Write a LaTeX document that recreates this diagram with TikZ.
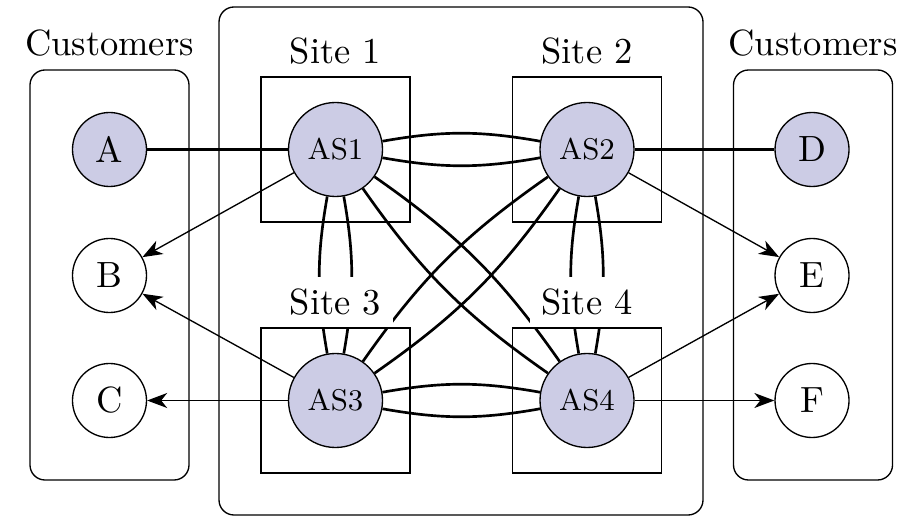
\documentclass[11pt,tikz,border=0pt]{standalone}
\usetikzlibrary{positioning,arrows.meta}
\definecolor{asfill}{RGB}{204,204,229}
\tikzset{
  asnode/.style={circle,draw,fill=asfill,minimum size=28.2pt,inner sep=0pt,font=\footnotesize},
  cust/.style={circle,draw,minimum size=22.2pt,inner sep=0pt},
  custA/.style={cust,fill=asfill},
  sitebox/.style={draw,minimum width=44.7pt,minimum height=43.5pt},
  custbox/.style={draw,rounded corners=4.5pt,minimum width=47.7pt,minimum height=123pt},
  lbl/.style={fill=white,inner sep=3.5pt},
  link/.style={thick},
  arr/.style={-{Stealth[length=6pt,width=4.5pt,inset=1.8pt]}}
}
\begin{document}
\begin{tikzpicture}[x=15pt,y=15pt]
\useasboundingbox (0,0) rectangle (18.32,10.34);
% provider network
\draw[rounded corners=4.5pt] (4.38,0.04) rectangle (14.06,10.2);
\node[custbox] (cl) at (2.19,4.84) {};
\node[custbox] (cr) at (16.26,4.84) {};
\node[above=0pt of cl] (cll) {Customers};
\node[above=0pt of cr] (crl) {Customers};
% sites
\node[sitebox] (s1) at (6.71,7.35) {};
\node[sitebox] (s2) at (11.74,7.35) {};
\node[sitebox] (s3) at (6.71,2.33) {};
\node[sitebox] (s4) at (11.74,2.33) {};
\node[asnode] (as1) at (s1) {AS1};
\node[asnode] (as2) at (s2) {AS2};
\node[asnode] (as3) at (s3) {AS3};
\node[asnode] (as4) at (s4) {AS4};
% customers
\node[custA] (a) at (2.19,7.35) {A};
\node[cust] (b) at (2.19,4.83) {B};
\node[cust] (c) at (2.19,2.33) {C};
\node[custA] (d) at (16.24,7.35) {D};
\node[cust] (e) at (16.24,4.83) {E};
\node[cust] (f) at (16.24,2.33) {F};
\draw[link] (a) -- (as1);
\draw[link] (as2) -- (d);
\foreach \p/\q in {as1/as2,as1/as3,as1/as4,as2/as3,as2/as4,as3/as4}{
  \draw[link] (\p) to[bend left=10] (\q);
  \draw[link] (\p) to[bend right=10] (\q);
}
\draw[arr] (as1) -- (b);
\draw[arr] (as3) -- (b);
\draw[arr] (as3) -- (c);
\draw[arr] (as2) -- (e);
\draw[arr] (as4) -- (e);
\draw[arr] (as4) -- (f);
% site labels on top of the links
\node[lbl,above=0pt of s1] (l1) {Site 1};
\node[lbl,above=0pt of s2] (l2) {Site 2};
\node[lbl,above=0pt of s3] (l3) {Site 3};
\node[lbl,above=0pt of s4] (l4) {Site 4};
\end{tikzpicture}
\end{document}
